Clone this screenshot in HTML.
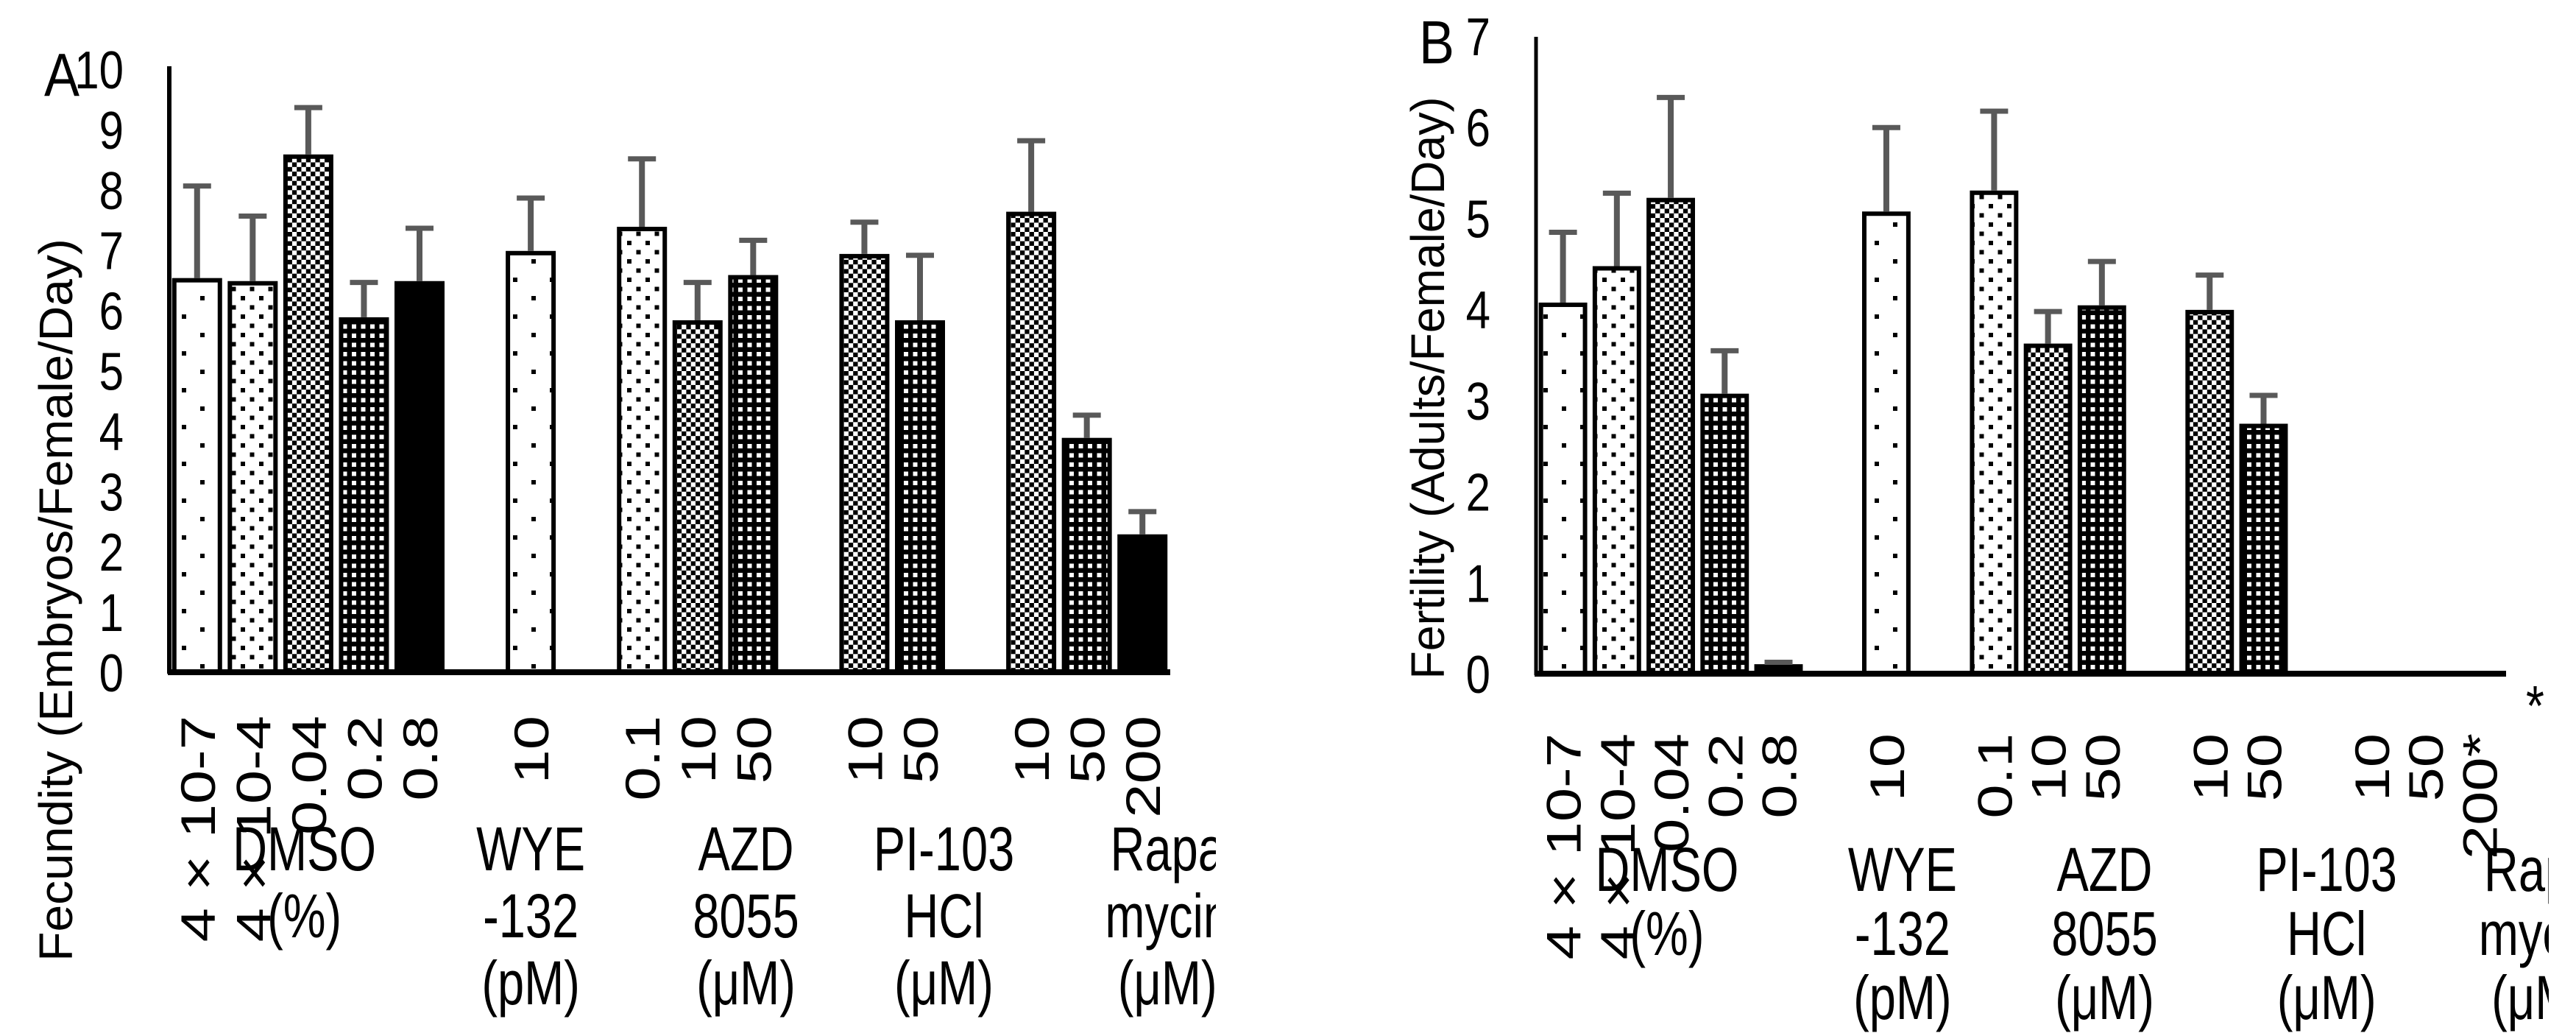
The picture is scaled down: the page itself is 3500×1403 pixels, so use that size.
<!DOCTYPE html>
<html><head><meta charset="utf-8"><style>
html,body{margin:0;padding:0;background:#fff;}
svg{display:block;font-family:"Liberation Sans",Arial,sans-serif;}
</style></head><body>
<svg id="chart" width="3500" height="1403" viewBox="0 0 3500 1403" xmlns="http://www.w3.org/2000/svg">
<defs>
<pattern id="p1" patternUnits="userSpaceOnUse" width="50" height="50"><rect width="50" height="50" fill="#fff"/><rect x="22" y="2" width="6" height="6" fill="#000"/><rect x="47" y="27" width="6" height="6" fill="#000"/><rect x="-3" y="27" width="6" height="6" fill="#000"/></pattern>
<pattern id="p2" patternUnits="userSpaceOnUse" width="25" height="25"><rect width="25" height="25" fill="#fff"/><rect x="2" y="2" width="6" height="6" fill="#000"/><rect x="14.5" y="14.5" width="6" height="6" fill="#000"/></pattern>
<pattern id="p3" patternUnits="userSpaceOnUse" width="12.6" height="12.6"><rect width="12.6" height="12.6" fill="#fff"/><rect width="6.3" height="6.3" fill="#000"/><rect x="6.3" y="6.3" width="6.3" height="6.3" fill="#000"/></pattern>
<pattern id="p4" patternUnits="userSpaceOnUse" width="12.5" height="12.5"><rect width="12.5" height="12.5" fill="#000"/><rect x="3" y="3" width="6" height="6" fill="#fff"/></pattern>
<pattern id="p5" patternUnits="userSpaceOnUse" width="10" height="10"><rect width="10" height="10" fill="#000"/></pattern>
<clipPath id="clipA"><rect x="0" y="0" width="1652" height="1403"/></clipPath>
<clipPath id="clipB"><rect x="1750" y="0" width="1713" height="1403"/></clipPath>
</defs>
</svg>
<script>
// shared categories
const doseLabelsA = ["4 × 10-7","4 × 10-4","0.04","0.2","0.8","10","0.1","10","50","10","50","10","50","200"];
const doseLabelsB = ["4 × 10-7","4 × 10-4","0.04","0.2","0.8","10","0.1","10","50","10","50","10","50","200*"];
const slotIndex = [0,1,2,3,4,6,8,9,10,12,13,15,16,17];
const patternIds = ["p1","p2","p3","p4","p5","p1","p2","p3","p4","p3","p4","p3","p4","p5"];
const groupNames = [["DMSO","(%)"],["WYE","-132","(pM)"],["AZD","8055","(μM)"],["PI-103","HCl","(μM)"],["Rapa","mycin","(μM)"]];
// panel A values
const fecundity = [6.5,6.45,8.55,5.85,6.45,6.95,7.35,5.8,6.55,6.9,5.8,7.6,3.85,2.25];
const fecundityErrTop = [8.1,7.6,9.4,6.5,7.4,7.9,8.55,6.5,7.2,7.5,6.95,8.85,4.3,2.7];
const ticksA = [0,1,2,3,4,5,6,7,8,9,10];
// panel B values
const fertility = [4.05,4.45,5.2,3.05,0.08,5.05,5.28,3.6,4.02,3.97,2.72,0,0,0];
const fertilityErrTop = [4.87,5.3,6.35,3.57,0.15,6.02,6.2,4.0,4.55,4.4,3.08,0,0,0];
const ticksB = [0,1,2,3,4,5,6,7];

const NS="http://www.w3.org/2000/svg";
const svg=document.getElementById("chart");
function mk(tag,attrs,parent){const e=document.createElementNS(NS,tag);for(const k in attrs)e.setAttribute(k,attrs[k]);(parent||svg).appendChild(e);return e;}
function txt(parent,s,x,y,rot,anchor,size,sy){
  const sc = rot ? `scale(${sy},1)` : `scale(1,${sy})`;
  const t=mk("text",{x:0,y:0,"text-anchor":anchor,"font-size":size,transform:`translate(${x},${y})`+(rot?" rotate(-90)":"")+" "+sc},parent);
  t.textContent=s;return t;
}

function panel(cfg){
  const g=mk("g",{"clip-path":cfg.clip});
  
  
  const slotW=(cfg.x1-cfg.x0)/18;
  const y=v=>cfg.zero-(v/cfg.max)*(cfg.zero-cfg.top);
  const xs=i=>cfg.x0+slotW*(i+0.5);
  cfg.values.forEach((v,i)=>{
    if(v<=0) return;
    const cx=xs(slotIndex[i]); const w=slotW*0.9;
    const r=mk("rect",{x:cx-w/2+3,y:y(v),width:w-6,height:cfg.zero-y(v),fill:"url(#"+patternIds[i]+")",stroke:"#000","stroke-width":6},g);
    
    
    const e=cfg.errs[i];
    const eg=mk("g",{},g);
    
    
    mk("line",{x1:cx,x2:cx,y1:y(v)-3,y2:y(e),stroke:"#595959","stroke-width":8},eg);
    mk("line",{x1:cx-19,x2:cx+19,y1:y(e)+3,y2:y(e)+3,stroke:"#595959","stroke-width":7},eg);
  });
  const ya=mk("line",{x1:cfg.x0,x2:cfg.x0,y1:cfg.axisTop,y2:cfg.zero+2,stroke:"#000","stroke-width":cfg.yw},g);
  
  
  const xa=mk("line",{x1:cfg.x0-2,x2:cfg.x1,y1:cfg.zero,y2:cfg.zero,stroke:"#000","stroke-width":8},g);
  
  
  cfg.ticks.forEach(t=>{
    const tx=txt(g,String(t),cfg.tickX,y(t)+26,false,"end",60,1.2);
    
    
  });
  cfg.labels.forEach((l,i)=>{
    const cx=xs(slotIndex[i]);
    const tx=txt(g,l,cx+24,cfg.labTop,true,"end",66,1.26);
    
    
  });
  groupNames.forEach((lines,gi)=>{
    const cx=cfg.x0+slotW*cfg.groupPos[gi];
    lines.forEach((s,li)=>{
      const tx=txt(g,s,cx,cfg.grpY+li*cfg.lineH,false,"middle",65,1.3);
      
      
    });
  });
  const tt=txt(g,cfg.title,cfg.titleX,cfg.titleY,true,"middle",64,cfg.titleSc);
  
  
  const pl=txt(g,cfg.letter,cfg.letterX,cfg.letterY,false,"start",72,1.15);
  
  
}
panel({name:"panel-a",clip:"url(#clipA)",x0:230,x1:1590,zero:913,top:94,max:10,axisTop:90,yw:6,values:fecundity,errs:fecundityErrTop,ticks:ticksA,tickX:168,labels:doseLabelsA,labTop:972,grpY:1182,lineH:91,groupPos:[2.43,6.5,10.37,13.93,17.95],title:"Fecundity (Embryos/Female/Day)",titleSc:1.03,titleX:98,titleY:815,letter:"A",letterX:60,letterY:130});
panel({name:"panel-b",clip:"url(#clipB)",x0:2087,x1:3405,zero:915,top:49,max:7,axisTop:50,yw:5,values:fertility,errs:fertilityErrTop,ticks:ticksB,tickX:2025,labels:doseLabelsB,labTop:996,grpY:1210,lineH:87,groupPos:[2.43,6.8,10.55,14.67,18.65],title:"Fertility (Adults/Female/Day)",titleSc:0.98,titleX:1962,titleY:527,letter:"B",letterX:1928,letterY:86});
const st=txt(svg,"*",3432,985,false,"start",64,1.2);


</script>
</body></html>
